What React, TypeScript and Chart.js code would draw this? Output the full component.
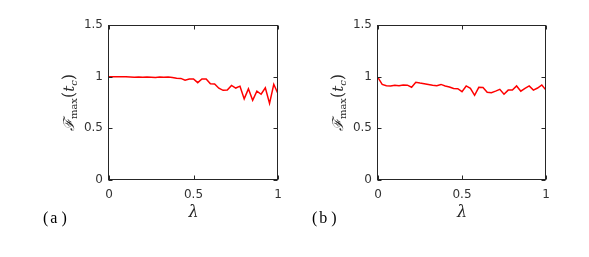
import React, { useEffect, useRef } from "react";
import { Chart, registerables } from "chart.js";

Chart.register(...registerables);

const lambdaValues = [
  0, 0.025, 0.05, 0.075, 0.1, 0.125, 0.15, 0.175, 0.2, 0.225, 0.25, 0.275, 0.3, 0.325,
  0.35, 0.375, 0.4, 0.425, 0.45, 0.475, 0.5, 0.525, 0.55, 0.575, 0.6, 0.625, 0.65, 0.675,
  0.7, 0.725, 0.75, 0.775, 0.8, 0.825, 0.85, 0.875, 0.9, 0.925, 0.95, 0.975, 1.0,
];

const fidelityA = [
  1.0, 1.0, 0.999, 0.999, 0.998, 0.997, 0.995, 0.997, 0.994, 0.997, 0.995, 0.993, 0.996, 0.995,
  0.996, 0.992, 0.985, 0.983, 0.965, 0.978, 0.978, 0.942, 0.978, 0.978, 0.932, 0.93, 0.888, 0.868,
  0.87, 0.915, 0.89, 0.908, 0.785, 0.882, 0.772, 0.86, 0.83, 0.893, 0.742, 0.926, 0.835,
];

const fidelityB = [
  0.99, 0.925, 0.912, 0.91, 0.918, 0.913, 0.92, 0.918, 0.898, 0.945, 0.938, 0.932, 0.925, 0.918,
  0.913, 0.925, 0.91, 0.9, 0.885, 0.883, 0.855, 0.91, 0.887, 0.82, 0.897, 0.895, 0.85, 0.845,
  0.86, 0.877, 0.83, 0.87, 0.87, 0.91, 0.86, 0.887, 0.91, 0.87, 0.89, 0.92, 0.87,
];

const xTickStep = 0.5;
const yTickStep = 0.5;
const xRange = [0, 1];
const yRange = [0, 1.5];
const panelLabels = ["(a)", "(b)"];
const xTitle = "λ";

const AXIS_COLOR = "#262626";
const TICK_COLOR = "#333333";

type PanelProps = {
  values: number[];
  label: string;
  left: number;
  width: number;
  yAxisWidth: number;
  padRight: number;
  yTitleX: number;
  labelX: number;
};

function Panel({ values, label, left, width, yAxisWidth, padRight, yTitleX, labelX }: PanelProps) {
  const ref = useRef<HTMLCanvasElement | null>(null);

  useEffect(() => {
    const canvas = ref.current;
    if (!canvas) return;

    const decor = {
      id: "decor",
      afterDraw(chart: any) {
        const { ctx, chartArea } = chart;
        const { left: l, right: r, top: t, bottom: b } = chartArea;
        const xs = chart.scales.x;
        const ys = chart.scales.y;
        ctx.save();
        ctx.strokeStyle = AXIS_COLOR;
        ctx.lineWidth = 1;
        const L = Math.round(l) - 0.5;
        const R = Math.round(r) - 0.5;
        const T = Math.round(t) + 0.5;
        const B = Math.round(b) - 0.5;
        ctx.strokeRect(L, T, R - L, B - T);
        const tl = 4;
        ctx.beginPath();
        ys.ticks.forEach((tk: any) => {
          const y = Math.round(ys.getPixelForValue(tk.value)) + 0.5;
          ctx.moveTo(L, y);
          ctx.lineTo(L + tl, y);
          ctx.moveTo(R, y);
          ctx.lineTo(R - tl, y);
        });
        xs.ticks.forEach((tk: any) => {
          const x = Math.round(xs.getPixelForValue(tk.value)) + 0.5;
          ctx.moveTo(x, B);
          ctx.lineTo(x, B - tl);
          ctx.moveTo(x, T);
          ctx.lineTo(x, T + tl);
        });
        ctx.stroke();

        // y-axis title: F_max(t_c)
        const pieces = [
          { text: "\u2131", font: "italic 15px 'DejaVu Serif'", dy: 0 },
          { text: "max", font: "10px 'DejaVu Serif'", dy: 3 },
          { text: "(", font: "16px 'DejaVu Serif'", dy: 0 },
          { text: "t", font: "italic 15px 'DejaVu Serif'", dy: 0 },
          { text: "c", font: "italic 10px 'DejaVu Serif'", dy: 3 },
          { text: ")", font: "16px 'DejaVu Serif'", dy: 0 },
        ];
        let total = 0;
        const widths = pieces.map((p) => {
          ctx.font = p.font;
          const w = ctx.measureText(p.text).width;
          total += w;
          return w;
        });
        const cy = (t + b) / 2;
        ctx.translate(yTitleX, cy);
        ctx.rotate(-Math.PI / 2);
        ctx.fillStyle = AXIS_COLOR;
        ctx.textBaseline = "alphabetic";
        ctx.textAlign = "left";
        let x = -total / 2;
        pieces.forEach((p, i) => {
          ctx.font = p.font;
          ctx.fillText(p.text, x, 5 + p.dy);
          x += widths[i];
        });
        ctx.restore();

        // panel label
        ctx.save();
        ctx.fillStyle = "#000";
        ctx.font = "16px 'Liberation Serif'";
        ctx.textBaseline = "middle";
        ctx.textAlign = "left";
        const gaps = [2, 4, 0];
        let lx = labelX;
        label.split("").forEach((c, i) => {
          ctx.fillText(c, lx, 219);
          lx += ctx.measureText(c).width + gaps[i];
        });
        ctx.restore();
      },
    };

    const chart = new Chart(canvas, {
      type: "line",
      data: {
        datasets: [
          {
            data: lambdaValues.map((x, i) => ({ x, y: values[i] })),
            borderColor: "#ff0000",
            borderWidth: 1.5,
            pointRadius: 0,
            tension: 0,
            fill: false,
          },
        ],
      },
      options: {
        animation: false,
        responsive: false,
        maintainAspectRatio: false,
        layout: { padding: { top: 25, right: padRight, left: 0, bottom: 0 } },
        plugins: { legend: { display: false }, tooltip: { enabled: false } },
        scales: {
          x: {
            type: "linear",
            min: xRange[0],
            max: xRange[1],
            ticks: {
              stepSize: xTickStep,
              padding: 8,
              color: TICK_COLOR,
              font: { family: "'DejaVu Sans'", size: 12 },
              maxRotation: 0,
              callback: (v: any) => String(v),
            },
            grid: { display: false, drawTicks: false },
            border: { display: false },
            title: {
              display: true,
              text: xTitle,
              color: AXIS_COLOR,
              font: { family: "'DejaVu Serif'", style: "italic", size: 16 },
              padding: { top: 0, bottom: 35 },
            },
            afterFit: (s: any) => {
              s.height = 77;
            },
          },
          y: {
            type: "linear",
            min: yRange[0],
            max: yRange[1],
            ticks: {
              stepSize: yTickStep,
              padding: 6,
              color: TICK_COLOR,
              font: { family: "'DejaVu Sans'", size: 12 },
              callback: (v: any) => String(v),
            },
            grid: { display: false, drawTicks: false },
            border: { display: false },
            afterFit: (s: any) => {
              s.width = yAxisWidth;
            },
          },
        },
      },
      plugins: [decor],
    } as any);

    return () => chart.destroy();
  }, [values, label, yAxisWidth, padRight, yTitleX, labelX]);

  return (
    <canvas
      ref={ref}
      width={width}
      height={257}
      style={{ position: "absolute", left, top: 0, width, height: 257 }}
    />
  );
}

export default function App() {
  return (
    <div
      style={{
        position: "fixed",
        left: 0,
        top: 0,
        width: 589,
        height: 257,
        background: "#fff",
      }}
    >
      <Panel
        values={fidelityA}
        label={panelLabels[0]}
        left={0}
        width={295}
        yAxisWidth={109}
        padRight={17}
        yTitleX={69}
        labelX={43}
      />
      <Panel
        values={fidelityB}
        label={panelLabels[1]}
        left={295}
        width={294}
        yAxisWidth={83}
        padRight={43}
        yTitleX={43}
        labelX={17}
      />
    </div>
  );
}
